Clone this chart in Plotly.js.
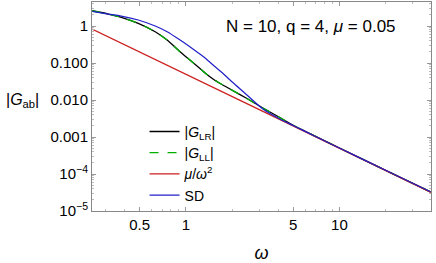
<!DOCTYPE html>
<html>
<head>
<meta charset="utf-8">
<script src="https://cdn.plot.ly/plotly-3.0.1.min.js"></script>
<style>html,body{margin:0;padding:0;background:#fff;}#plot{width:436px;height:263px;}</style>
</head>
<body>
<div id="plot"></div>
<script>
// omega grid
const omega = [0.2464, 0.313, 0.380, 0.490, 0.632, 0.756, 0.918, 1.035, 1.184, 1.335, 1.504, 1.721, 1.940, 2.501, 3.177, 4.096, 5.0, 7.0, 10.0, 20.0, 39.2];
// |G_LR| and |G_LL| (coincide)
const gLR = [2.59, 2.11, 1.718, 1.183, 0.701, 0.418, 0.202, 0.1323, 0.0830, 0.0537, 0.0369, 0.0262, 0.01983, 0.01098, 0.00608, 0.00336, 0.00208, 0.00104, 0.000505, 0.000126, 0.000033];
const gLL = [2.59, 2.11, 1.718, 1.183, 0.701, 0.418, 0.202, 0.1323, 0.0830, 0.0537, 0.0369, 0.0262, 0.01983, 0.01098, 0.00608, 0.00336, 0.00208, 0.00104, 0.000505, 0.000126, 0.000033];
// SD curve
const gSD = [2.50, 2.11, 1.863, 1.453, 1.00, 0.701, 0.418, 0.297, 0.198, 0.1365, 0.0883, 0.0554, 0.0347, 0.01365, 0.00571, 0.00307, 0.00205, 0.00103, 0.000503, 0.000126, 0.000033];
// mu / omega^2 line
const mu = 0.05;
const omegaLine = [0.245, 39.5];
const muLine = omegaLine.map(w => mu / (w * w));

const xTickVals = [0.5, 1, 5, 10];
const xTickText = ['0.5', '1', '5', '10'];
const yTickVals = [1, 0.1, 0.01, 0.001, 1e-4, 1e-5];
const yTickText = ['1', '0.100', '0.010', '0.001', '10<sup>−4</sup>', '10<sup>−5</sup>'];

const labelLR = '|<i>G</i><sub>LR</sub>|';
const labelLL = '|<i>G</i><sub>LL</sub>|';
const labelMu = '<i>μ</i>/<i>ω</i><sup>2</sup>';
const labelSD = 'SD';
const annotText = 'N = 10, q = 4, <i>μ</i> = 0.05';
const yTitle = '|<i>G</i><sub>ab</sub>|';
const xTitle = '<i>ω</i>';

// minor ticks
const xMinor = [];
[0.1, 1, 10].forEach(d => { for (let k = 2; k <= 9; k++) xMinor.push(k * d); });
const yMinor = [];
[1e-5, 1e-4, 1e-3, 1e-2, 1e-1, 1].forEach(d => { for (let k = 2; k <= 9; k++) yMinor.push(k * d); });

const fam = 'Liberation Sans, Arial, sans-serif';
const curve = {shape: 'spline', smoothing: 0.6};

const traces = [
  {x: omega, y: gLR, mode: 'lines', name: labelLR, line: Object.assign({color: '#000000', width: 1.3}, curve)},
  {x: omega, y: gLL, mode: 'lines', name: labelLL, line: Object.assign({color: '#00b000', width: 1.3, dash: 'dash'}, curve)},
  {x: omegaLine, y: muLine, mode: 'lines', name: labelMu, line: {color: '#cc1f1f', width: 1.3}},
  {x: omega, y: gSD, mode: 'lines', name: labelSD, line: Object.assign({color: '#2020c8', width: 1.2}, curve)}
];

const layout = {
  width: 436, height: 263,
  margin: {l: 92, r: 5, t: 2, b: 52},
  paper_bgcolor: '#fff', plot_bgcolor: '#fff',
  showlegend: true,
  legend: {x: 0.155, y: 0.455, xanchor: 'left', yanchor: 'top', bgcolor: 'rgba(0,0,0,0)',
           font: {family: fam, size: 14, color: '#000'}, itemwidth: 30, tracegroupgap: 0},
  xaxis: {
    type: 'log', range: [Math.log10(0.245), Math.log10(39.5)],
    tickmode: 'array', tickvals: xTickVals, ticktext: xTickText,
    ticks: 'inside', ticklen: 4, tickcolor: '#999', showline: true, linecolor: '#888', linewidth: 1,
    mirror: 'ticks', showgrid: false, zeroline: false,
    minor: {tickmode: 'array', tickvals: xMinor, ticks: 'inside', ticklen: 2, tickcolor: '#bbb', showgrid: false},
    tickfont: {family: fam, size: 15, color: '#000'},
    title: {text: xTitle, font: {family: fam, size: 18, color: '#000'}, standoff: 14}
  },
  yaxis: {
    type: 'log', range: [-5, 0.65],
    tickmode: 'array', tickvals: yTickVals, ticktext: yTickText,
    ticks: 'inside', ticklen: 4, tickcolor: '#999', showline: true, linecolor: '#888', linewidth: 1,
    mirror: 'ticks', showgrid: false, zeroline: false,
    minor: {tickmode: 'array', tickvals: yMinor, ticks: 'inside', ticklen: 2, tickcolor: '#bbb', showgrid: false},
    tickfont: {family: fam, size: 15, color: '#000'}
  },
  annotations: [
    {text: annotText, xref: 'paper', yref: 'paper', x: 0.645, y: 0.885,
     xanchor: 'center', yanchor: 'middle', showarrow: false,
     font: {family: fam, size: 17, color: '#000'}},
    {text: yTitle, xref: 'paper', yref: 'paper', x: -0.205, y: 0.53,
     xanchor: 'center', yanchor: 'middle', showarrow: false,
     font: {family: fam, size: 16, color: '#000'}}
  ]
};

Plotly.newPlot('plot', traces, layout, {displayModeBar: false, staticPlot: true});
</script>
</body>
</html>
